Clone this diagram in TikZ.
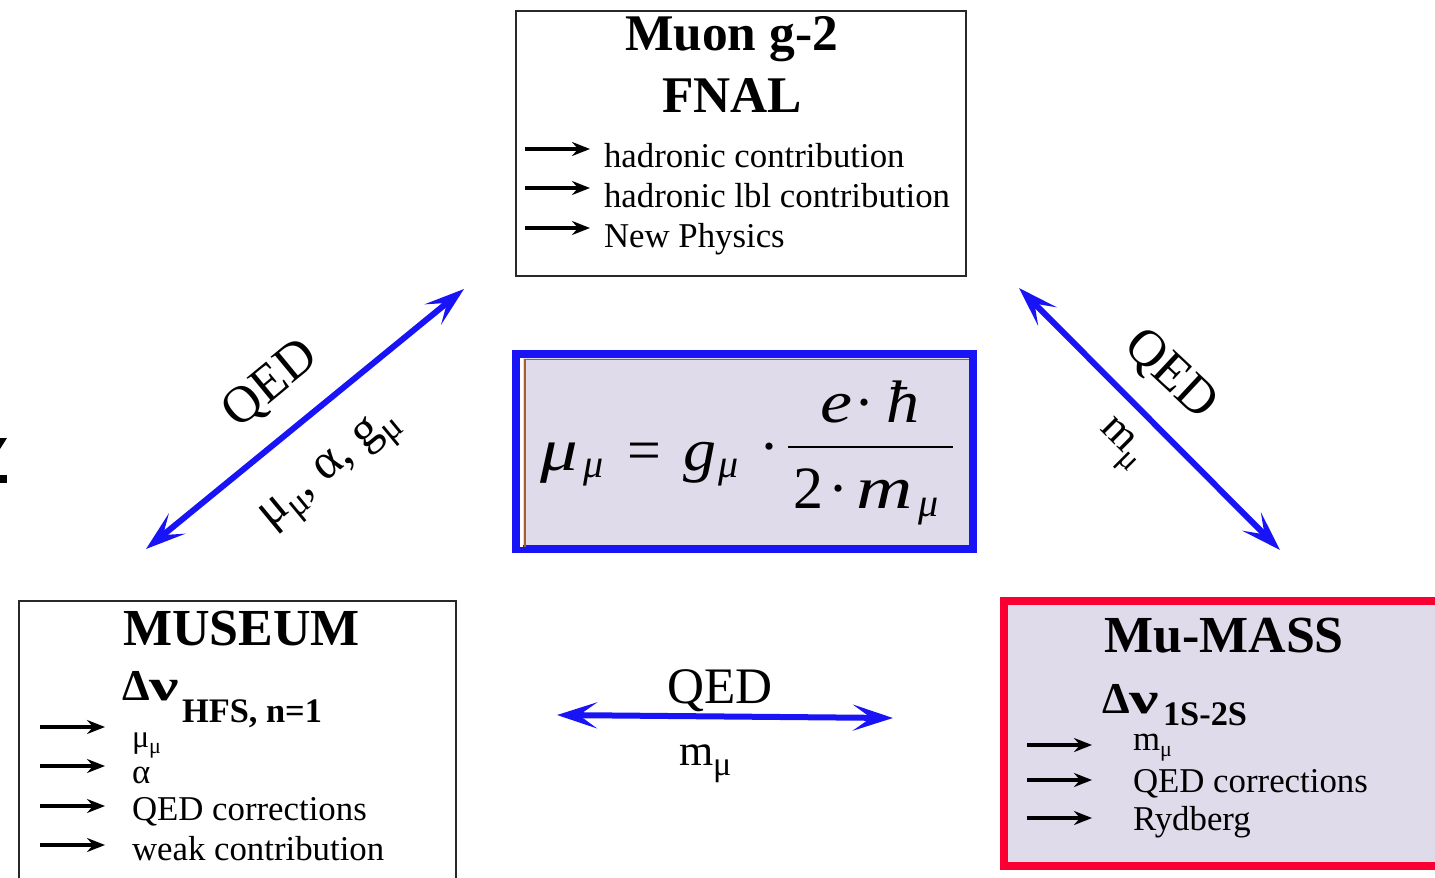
\documentclass[tikz,border=0pt]{standalone}
\usepackage{fontspec}
\setmainfont{Liberation Serif}
\usetikzlibrary{arrows.meta}
\definecolor{lav}{RGB}{224,219,234}
\definecolor{arrblue}{RGB}{25,20,245}
\definecolor{boxred}{RGB}{250,0,50}
\definecolor{brownl}{RGB}{165,95,45}
\definecolor{boxgray}{RGB}{40,40,40}
\newcommand{\fs}[1]{\fontsize{#1}{#1}\selectfont}
\newcommand{\dn}[2]{\raisebox{-#1}{#2}}
\newcommand{\wide}[2]{\scalebox{#1}[1]{#2}}
\begin{document}
\begin{tikzpicture}[x=0.5pt,y=-0.5pt,
  txt/.style={inner sep=0pt, outer sep=0pt, anchor=base west},
  ctxt/.style={inner sep=0pt, outer sep=0pt, anchor=base},
  rtxt/.style={inner sep=0pt, outer sep=0pt},
  plainbox/.style={draw=boxgray, line width=1pt, inner sep=0pt},
  itemarrow/.style={-{Stealth[length=9pt,width=7pt,inset=3pt]}, line width=1.6pt, black},
  qedarrow/.style={{Stealth[length=20pt,width=13pt,inset=9pt]}-{Stealth[length=20pt,width=13pt,inset=9pt]}, line width=3pt, arrblue},
  ]
\useasboundingbox (0,0) rectangle (1435,878);
\clip (0,0) rectangle (1435,878);

% left-edge fragment
\fill (0,438) -- (7,438) -- (0,449) -- cycle;
\fill (0,475) rectangle (7,483);

% ---------- top box: Muon g-2 FNAL ----------
\node[plainbox, minimum width=225pt, minimum height=132.5pt] (fnal) at (741,143.5) {};
\node[ctxt, font=\fs{25.7}\bfseries] (fnalT1) at (731.5,50) {Muon g-2};
\node[ctxt, font=\fs{25.7}\bfseries] (fnalT2) at (732,112) {FNAL};
\node[txt, font=\fs{17.4}] (f1) at (604,167) {hadronic contribution};
\node[txt, font=\fs{17.4}] (f2) at (604,207) {hadronic lbl contribution};
\node[txt, font=\fs{17.4}] (f3) at (604,247) {New Physics};
\coordinate (fa1s) at (525,149); \coordinate (fa1e) at (590,149);
\coordinate (fa2s) at (525,188); \coordinate (fa2e) at (590,188);
\coordinate (fa3s) at (525,228); \coordinate (fa3e) at (590,228);
\draw[itemarrow] (fa1s) -- (fa1e);
\draw[itemarrow] (fa2s) -- (fa2e);
\draw[itemarrow] (fa3s) -- (fa3e);

% ---------- central formula box ----------
\node[draw=arrblue, line width=4pt, fill=lav, minimum width=228.5pt, minimum height=97.5pt, inner sep=0pt] (eq) at (744.5,451.5) {};
\fill[white] (520,358) rectangle (523,547);
\draw[brownl, line width=1pt] (524.5,547) -- (524.5,359.5);
\draw[brownl, line width=0.6pt] (524,359.5) -- (969,359.5);
\node[txt, font=\fs{30}\itshape] (mu1) at (540,470) {\wide{1.25}{μ}};
\node[txt, font=\fs{20}\itshape] (mu1s) at (583,477) {μ};
\node[txt, font=\fs{30}] (eqs) at (627,470) {=};
\node[txt, font=\fs{30}\itshape] (g1) at (683,470) {\wide{1.1}{g}};
\node[txt, font=\fs{20}\itshape] (g1s) at (718,477) {μ};
\node[ctxt, font=\fs{30}] (dot1) at (769,466) {·};
\node[txt, font=\fs{30}\itshape] (nume) at (820,422) {\wide{1.2}{e}};
\node[ctxt, font=\fs{30}] (numdot) at (864,422) {·};
\node[txt, font=\fs{30}\itshape] (numh) at (886,422) {\wide{1.1}{ħ}};
\coordinate (barL) at (788,447); \coordinate (barR) at (953,447);
\draw[line width=1.3pt] (barL) -- (barR);
\node[txt, font=\fs{30}] (den2) at (793,508) {2};
\node[ctxt, font=\fs{30}] (dendot) at (838,508) {·};
\node[txt, font=\fs{30}\itshape] (denm) at (856,508) {\wide{1.3}{m}};
\node[txt, font=\fs{20}\itshape] (dens) at (918,516) {μ};

% ---------- MUSEUM box ----------
\node[plainbox, minimum width=218.5pt, minimum height=159.5pt] (museum) at (237.5,760.5) {};
\node[ctxt, font=\fs{26}\bfseries] (musT) at (241.5,645) {MUSEUM};
\node[txt, font=\fs{22}\bfseries] (dnu1) at (122,700) {Δ\wide{1.5}{ν}};
\node[txt, font=\fs{17.2}\bfseries] (hfs) at (182,722) {HFS, n=1};
\node[txt, font=\fs{16}] (m1) at (132,747) {μ\dn{3pt}{\fs{11}μ}};
\node[txt, font=\fs{17.4}] (m2) at (132,783) {α};
\node[txt, font=\fs{17.4}] (m3) at (132,820) {QED corrections};
\node[txt, font=\fs{17.4}] (m4) at (132,860) {weak contribution};
\coordinate (ma1s) at (40,727); \coordinate (ma1e) at (105,727);
\coordinate (ma2s) at (40,766); \coordinate (ma2e) at (105,766);
\coordinate (ma3s) at (40,806); \coordinate (ma3e) at (105,806);
\coordinate (ma4s) at (40,845); \coordinate (ma4e) at (105,845);
\draw[itemarrow] (ma1s) -- (ma1e);
\draw[itemarrow] (ma2s) -- (ma2e);
\draw[itemarrow] (ma3s) -- (ma3e);
\draw[itemarrow] (ma4s) -- (ma4e);

% ---------- Mu-MASS box ----------
\node[draw=boxred, line width=4pt, fill=lav, minimum width=223pt, minimum height=132.5pt, inner sep=0pt] (mumass) at (1227,733.5) {};
\node[ctxt, font=\fs{26}\bfseries] (mmT) at (1224,652) {Mu-MASS};
\node[txt, font=\fs{22}\bfseries] (dnu2) at (1102,713) {Δ\wide{1.5}{ν}};
\node[txt, font=\fs{17.2}\bfseries] (s12) at (1163,725) {1S-2S};
\node[txt, font=\fs{17.4}] (r1) at (1133,750) {m\dn{3pt}{\fs{11}μ}};
\node[txt, font=\fs{17.4}] (r2) at (1133,792) {QED corrections};
\node[txt, font=\fs{17.4}] (r3) at (1133,830) {Rydberg};
\coordinate (ra1s) at (1027,745); \coordinate (ra1e) at (1092,745);
\coordinate (ra2s) at (1027,780); \coordinate (ra2e) at (1092,780);
\coordinate (ra3s) at (1027,818); \coordinate (ra3e) at (1092,818);
\draw[itemarrow] (ra1s) -- (ra1e);
\draw[itemarrow] (ra2s) -- (ra2e);
\draw[itemarrow] (ra3s) -- (ra3e);

% ---------- QED connectors ----------
\coordinate (aL1) at (146,549); \coordinate (aL2) at (464,289);
\draw[qedarrow] (aL1) -- (aL2);
\node[rtxt, font=\fs{26}, rotate=39.5] (qedL) at (271,385) {QED};
\node[rtxt, font=\fs{25}, rotate=39.5] (parL) at (332,472) {μ\dn{5pt}{\fs{18}μ}, α, g\dn{5pt}{\fs{18}μ}};

\coordinate (aR1) at (1019,288); \coordinate (aR2) at (1280,550);
\draw[qedarrow] (aR1) -- (aR2);
\node[rtxt, font=\fs{26}, rotate=-43] (qedR) at (1170,375) {QED};
\node[rtxt, font=\fs{22}, rotate=-45] (parR) at (1119,446) {m\dn{5pt}{\fs{16}μ}};

\coordinate (aH1) at (557,715); \coordinate (aH2) at (893,718);
\draw[qedarrow] (aH1) -- (aH2);
\node[ctxt, font=\fs{25.6}] (qedH) at (720,703) {QED};
\node[txt, font=\fs{22}] (parH) at (679,765) {m\dn{5pt}{\fs{17}μ}};
\end{tikzpicture}
\end{document}
